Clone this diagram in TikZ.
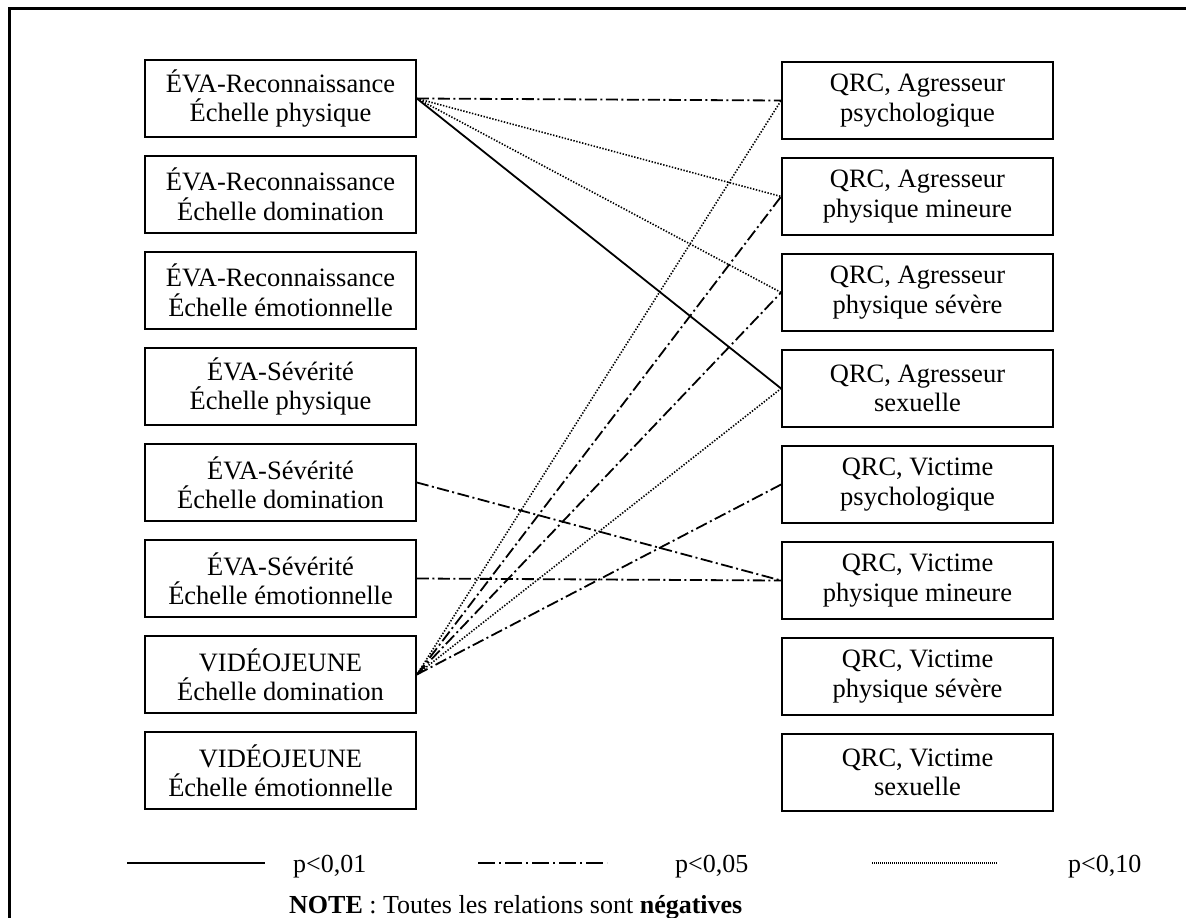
\documentclass[tikz,border=0pt]{standalone}
\usepackage{fontspec}
\setmainfont{Liberation Serif}
\begin{document}
\begin{tikzpicture}[x=1pt,y=-1pt,
  varbox/.style={draw=black,line width=1.8pt,minimum width=271pt,minimum height=77pt,
    inner sep=0pt,align=center,font=\fontsize{26.5}{29.5}\selectfont},
  legtext/.style={anchor=base west,inner sep=0pt,font=\fontsize{26}{29}\selectfont},
  rel/.style={line width=1.8pt,black},
  p01/.style={rel},
  p05/.style={rel,dash pattern=on 12pt off 3.5pt on 2pt off 3.5pt},
  p10/.style={rel,line width=1.6pt,dash pattern=on 1.4pt off 1.6pt}]
\useasboundingbox (0,0) rectangle (1186,918);
% open frame: top and left rules
\draw[line width=2.6pt] (9.5,918) -- (9.5,8.5) -- (1186,8.5);

% left column: ÉVA and VIDÉOJEUNE scales
\foreach \i/\a/\b in {1/ÉVA-Reconnaissance/Échelle physique,
                      2/ÉVA-Reconnaissance/Échelle domination,
                      3/ÉVA-Reconnaissance/Échelle émotionnelle,
                      4/ÉVA-Sévérité/Échelle physique,
                      5/ÉVA-Sévérité/Échelle domination,
                      6/ÉVA-Sévérité/Échelle émotionnelle,
                      7/VIDÉOJEUNE/Échelle domination,
                      8/VIDÉOJEUNE/Échelle émotionnelle}
  \node[varbox] (L\i) at (280.5,{2.5+96*\i}) {\a\\\b};

% right column: QRC scales
\foreach \i/\a/\b in {1/{QRC, Agresseur}/psychologique,
                      2/{QRC, Agresseur}/physique mineure,
                      3/{QRC, Agresseur}/physique sévère,
                      4/{QRC, Agresseur}/sexuelle,
                      5/{QRC, Victime}/psychologique,
                      6/{QRC, Victime}/physique mineure,
                      7/{QRC, Victime}/physique sévère,
                      8/{QRC, Victime}/sexuelle}
  \node[varbox] (R\i) at (917.5,{4.5+96*\i}) {\a\\\b};

% relations
\draw[p05] (L1.east) -- (R1.west);
\draw[p10] (L1.east) -- (R2.west);
\draw[p10] (L1.east) -- (R3.west);
\draw[p01] (L1.east) -- (R4.west);
\draw[p05] (L5.east) -- (R6.west);
\draw[p05] (L6.east) -- (R6.west);
\draw[p10] (L7.east) -- (R1.west);
\draw[p05] (L7.east) -- (R2.west);
\draw[p05] (L7.east) -- (R3.west);
\draw[p10] (L7.east) -- (R4.west);
\draw[p05] (L7.east) -- (R5.west);

% legend
\coordinate (k1a) at (127,863); \coordinate (k1b) at (265,863);
\coordinate (k2a) at (478,863); \coordinate (k2b) at (607,863);
\coordinate (k3a) at (872,863); \coordinate (k3b) at (997,863);
\draw[p01] (k1a) -- (k1b);
\draw[p05,dash pattern=on 17pt off 4pt on 2pt off 4pt] (k2a) -- (k2b);
\draw[p10,line width=1.2pt,dash pattern=on 1pt off 1pt] (k3a) -- (k3b);
\node[legtext] (t1) at (293,872) {p<0,01};
\node[legtext] (t2) at (675,872) {p<0,05};
\node[legtext] (t3) at (1068,872) {p<0,10};
\node[legtext] (note) at (289,913) {\textbf{NOTE} : Toutes les relations sont \textbf{négatives}};
\end{tikzpicture}
\end{document}
